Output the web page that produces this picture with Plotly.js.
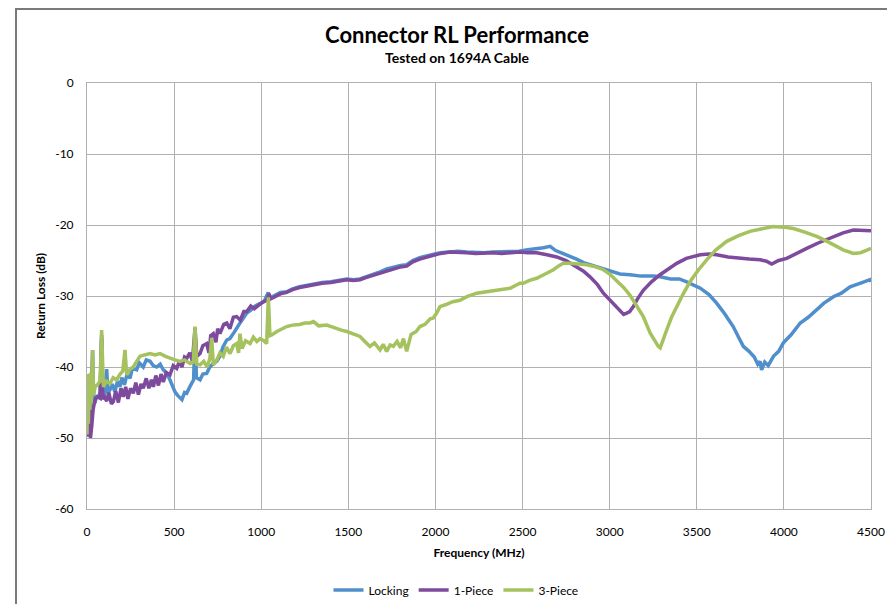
<!DOCTYPE html>
<html>
<head>
<meta charset="utf-8">
<script src="https://cdn.plot.ly/plotly-3.0.1.min.js"></script>
<style>
  html, body { margin: 0; padding: 0; overflow: hidden; background: #fff; }
  #chart { width: 887px; height: 604px; }
  #frame { position: absolute; left: 15px; top: 8px; width: 1000px; height: 1000px;
           border-left: 2px solid #7a7a7a; border-top: 2px solid #7a7a7a; pointer-events: none; }
</style>
</head>
<body>
<div id="chart"></div>
<div id="frame"></div>
<script>
// ---- Data ----
const chartTitle = "Connector RL Performance";
const chartSubtitle = "Tested on 1694A Cable";
const xTitle = "Frequency (MHz)";
const yTitle = "Return Loss (dB)";
const seriesNames = ["Locking", "1-Piece", "3-Piece"];

const lockingFreq = [0,5,10,15,20,27,32,38,46,55,65,75,84,90,100,113,120,132,145,160,175,189,200,215,230,247,260,285,300,323,340,362,380,400,420,438,455,476,490,505,520,534,545,560,572,590,601,612,620,628,649,665,687,705,725,745,763,780,802,820,840,860,878,895,917,940,960,980,1000,1020,1040,1050,1080,1110,1146,1180,1220,1260,1300,1350,1400,1450,1491,1530,1567,1600,1640,1682,1720,1760,1800,1835,1870,1910,1950,1990,2030,2080,2130,2180,2230,2280,2330,2380,2430,2480,2530,2581,2620,2658,2690,2730,2772,2810,2850,2890,2925,2960,3000,3059,3117,3180,3251,3289,3350,3400,3442,3480,3520,3570,3614,3660,3709,3740,3767,3800,3830,3850,3863,3872,3890,3910,3940,3970,3997,4040,4094,4140,4188,4230,4284,4330,4380,4420,4460,4494,4500];
const lockingRL = [-47,-42,-48,-41,-46,-40,-37.6,-44,-45.1,-44,-44.4,-43.5,-36,-43.8,-44.2,-40.3,-43.7,-43.2,-42.4,-43.5,-42.0,-42.8,-41.5,-42.5,-41.0,-41.6,-40.2,-40.4,-39.4,-40.0,-39.0,-39.2,-39.8,-40.0,-39.6,-40.4,-40.8,-41.8,-42.6,-43.5,-44.0,-44.4,-44.6,-43.6,-43.7,-42.8,-42.3,-41.8,-34.5,-41.5,-41.8,-41.0,-40.9,-40.0,-39.5,-39.2,-38.5,-37.2,-36.2,-36.0,-35.3,-34.4,-33.8,-33.2,-32.4,-32.0,-31.5,-31.2,-31.0,-30.6,-29.5,-30.3,-29.9,-29.5,-29.4,-29.0,-28.7,-28.5,-28.3,-28.1,-28.0,-27.8,-27.6,-27.7,-27.6,-27.3,-27.0,-26.6,-26.2,-25.9,-25.7,-25.6,-25.0,-24.6,-24.3,-24.1,-23.9,-23.8,-23.7,-23.8,-23.9,-23.9,-23.8,-23.8,-23.7,-23.7,-23.5,-23.4,-23.2,-23.0,-23.6,-24.0,-24.4,-24.8,-25.3,-25.6,-25.9,-26.2,-26.5,-26.9,-27.0,-27.2,-27.2,-27.3,-27.6,-27.6,-28.0,-28.4,-28.9,-29.8,-31.0,-32.5,-34.3,-35.8,-37.1,-37.8,-38.6,-39.6,-39.2,-40.4,-39.3,-39.8,-38.5,-37.8,-36.6,-35.5,-33.8,-33.0,-32.0,-31.0,-30.1,-29.6,-28.7,-28.3,-28.0,-27.7,-28.0];

const onePieceFreq = [0,8,15,20,27,35,46,60,75,84,90,100,113,125,140,151,165,180,195,208,222,235,250,266,280,295,310,323,340,355,370,381,395,410,425,438,455,476,495,515,530,545,560,572,590,605,620,630,649,665,687,700,710,725,740,750,763,785,802,820,840,859,880,900,917,940,960,974,1000,1031,1045,1055,1080,1110,1146,1180,1220,1260,1300,1350,1400,1450,1491,1530,1567,1600,1640,1682,1720,1760,1800,1835,1870,1910,1950,1988,2030,2084,2130,2180,2230,2280,2332,2380,2430,2485,2530,2581,2640,2696,2750,2811,2850,2887,2930,2964,3002,3030,3059,3080,3098,3115,3136,3160,3193,3240,3289,3340,3385,3440,3480,3520,3570,3614,3680,3748,3800,3863,3900,3930,3970,4016,4070,4131,4200,4284,4340,4399,4450,4494,4500];
const onePieceRL = [-47,-49.8,-46,-50,-48.4,-46,-44.6,-44.2,-44.4,-35.5,-44.5,-44.2,-44.8,-43.6,-45.2,-44.9,-43.4,-45.0,-43.0,-44.2,-42.8,-44.5,-43.0,-43.7,-42.2,-43.9,-42.4,-43.0,-41.6,-43.0,-41.8,-42.8,-41.2,-42.6,-41.0,-42.1,-40.8,-41.1,-39.8,-40.2,-39.2,-40.0,-38.6,-38.8,-38.0,-39.2,-34.5,-38.5,-38.1,-37.0,-36.7,-38.0,-35.6,-35.3,-36.5,-34.6,-35.3,-34.0,-33.8,-34.6,-33.0,-32.9,-33.4,-32.2,-32.2,-31.4,-31.8,-31.5,-31.0,-30.6,-29.7,-30.4,-30.1,-29.7,-29.5,-29.1,-28.8,-28.6,-28.4,-28.2,-28.1,-27.9,-27.7,-27.8,-27.7,-27.4,-27.1,-26.8,-26.4,-26.1,-25.9,-25.8,-25.2,-24.8,-24.5,-24.2,-24.0,-23.8,-23.8,-23.9,-24.0,-23.9,-23.9,-24.0,-23.9,-23.8,-23.9,-23.9,-24.2,-24.5,-25.0,-25.9,-26.5,-27.3,-28.4,-29.6,-30.6,-31.2,-32.0,-32.6,-32.4,-32.2,-31.5,-30.4,-29.2,-28.0,-27.0,-26.1,-25.4,-24.7,-24.4,-24.2,-24.1,-24.2,-24.5,-24.7,-24.8,-24.9,-25.1,-25.5,-25.0,-24.7,-24.0,-23.3,-22.5,-21.6,-21.1,-20.7,-20.7,-20.7,-20.8];

const threePieceFreq = [0,4,8,12,16,20,25,32,38,46,60,75,84,94,110,132,150,170,190,205,218,228,247,266,285,304,330,362,390,419,450,476,505,534,560,591,610,620,630,649,670,690,705,716,725,745,763,782,800,821,840,859,870,878,890,910,936,955,975,993,1015,1031,1041,1050,1060,1090,1120,1146,1180,1220,1250,1280,1300,1330,1376,1420,1460,1491,1530,1567,1595,1624,1650,1682,1700,1720,1740,1758,1780,1800,1816,1835,1860,1890,1911,1940,1970,1988,2007,2026,2060,2100,2141,2180,2237,2294,2340,2371,2428,2485,2504,2540,2581,2630,2677,2705,2734,2772,2810,2868,2920,2964,3000,3040,3080,3117,3150,3193,3232,3260,3279,3290,3305,3327,3355,3385,3420,3461,3510,3557,3610,3672,3740,3805,3870,3939,4000,4054,4120,4188,4240,4284,4340,4399,4440,4470,4494,4500];
const threePieceRL = [-49.5,-41,-48,-42,-46,-40.8,-45,-37.6,-44,-42.8,-42.5,-42.0,-34.8,-42.8,-42.0,-42.3,-41.5,-41.8,-41.0,-40.6,-37.6,-41.1,-40.3,-40.0,-39.2,-38.5,-38.3,-38.1,-38.3,-38.1,-38.5,-38.8,-39.0,-39.2,-39.0,-39.5,-39.3,-34.3,-39.6,-39.7,-39.2,-40.0,-38.8,-35.9,-39.7,-39.0,-38.0,-38.5,-37.2,-38.1,-37.0,-36.7,-38.0,-35.3,-37.4,-36.3,-36.7,-35.8,-36.4,-36.0,-36.3,-36.7,-30.2,-35.6,-35.5,-35.0,-34.6,-34.3,-34.1,-34.0,-33.8,-33.8,-33.6,-34.2,-34.1,-34.5,-34.8,-35.0,-35.4,-35.7,-36.4,-37.1,-36.6,-37.6,-36.8,-37.8,-36.9,-37.1,-36.4,-37.3,-36.0,-37.8,-35.4,-35.0,-34.3,-34.0,-33.2,-33.1,-32.4,-31.5,-31.2,-30.8,-30.6,-30.1,-29.6,-29.4,-29.3,-29.2,-28.9,-28.2,-28.2,-27.8,-27.5,-26.9,-26.3,-25.8,-25.4,-25.4,-25.5,-25.6,-25.9,-26.3,-26.9,-27.8,-28.8,-29.9,-31.3,-32.9,-35.2,-36.3,-37.1,-37.3,-36.2,-34.8,-33.0,-31.5,-29.8,-28.0,-26.3,-24.9,-23.5,-22.3,-21.5,-20.9,-20.5,-20.2,-20.3,-20.5,-21.0,-21.6,-22.2,-22.8,-23.5,-24.0,-23.9,-23.6,-23.3,-23.3];

const xTickVals = [0,500,1000,1500,2000,2500,3000,3500,4000,4500];
const yTickVals = [0,-10,-20,-30,-40,-50,-60];

// ---- Chart ----
const colors = ["#4F8FCC", "#7D4A9D", "#A5C25E"];
const xs = [lockingFreq, onePieceFreq, threePieceFreq];
const ys = [lockingRL, onePieceRL, threePieceRL];
const traces = seriesNames.map((n, i) => ({
  type: "scatter", mode: "lines", name: n, x: xs[i], y: ys[i],
  line: { color: colors[i], width: 3.5 }
}));

const font = "Lato, 'Open Sans', sans-serif";
const gridC = "#B0B0B0";
const layout = {
  width: 887, height: 604,
  margin: { l: 87, r: 16, t: 83, b: 95, autoexpand: false },
  paper_bgcolor: "#fff", plot_bgcolor: "#fff",
  font: { family: font, color: "#000", size: 12 },
  title: { text: "<b>" + chartTitle + "</b>", font: { family: font, size: 22, color: "#000" },
           x: 457 / 887, xanchor: "center", xref: "container", y: 1 - 35 / 604, yanchor: "middle", yref: "container" },
  annotations: [{
    text: "<b>" + chartSubtitle + "</b>", xref: "paper", yref: "paper",
    x: (457 - 87) / 784, y: (509 - 58) / 426, xanchor: "center", yanchor: "middle",
    showarrow: false, font: { family: font, size: 14, color: "#000" }
  }],
  xaxis: {
    range: [0, 4500], tickvals: xTickVals, ticktext: xTickVals.map(String),
    showgrid: true, gridcolor: gridC, gridwidth: 1, zeroline: false,
    showline: true, linecolor: gridC, linewidth: 1, mirror: true,
    ticks: "", ticklabelstandoff: 12, tickfont: { size: 12 },
    title: { text: "<b>" + xTitle + "</b>", font: { size: 12 }, standoff: 10 }
  },
  yaxis: {
    range: [-60, 0], tickvals: yTickVals, ticktext: yTickVals.map(String),
    showgrid: true, gridcolor: gridC, gridwidth: 1, zeroline: false,
    showline: true, linecolor: gridC, linewidth: 1, mirror: true,
    ticks: "", ticklabelstandoff: 10, tickfont: { size: 12 },
    title: { text: "<b>" + yTitle + "</b>", font: { size: 12 }, standoff: 7 }
  },
  showlegend: true,
  legend: { orientation: "h", x: (456 - 87) / 784, xanchor: "center", y: -(590 - 509) / 426, yanchor: "middle",
            font: { size: 12 }, bgcolor: "rgba(0,0,0,0)", itemwidth: 30 }
};

Plotly.newPlot("chart", traces, layout, { displayModeBar: false, staticPlot: true });
</script>
</body>
</html>
